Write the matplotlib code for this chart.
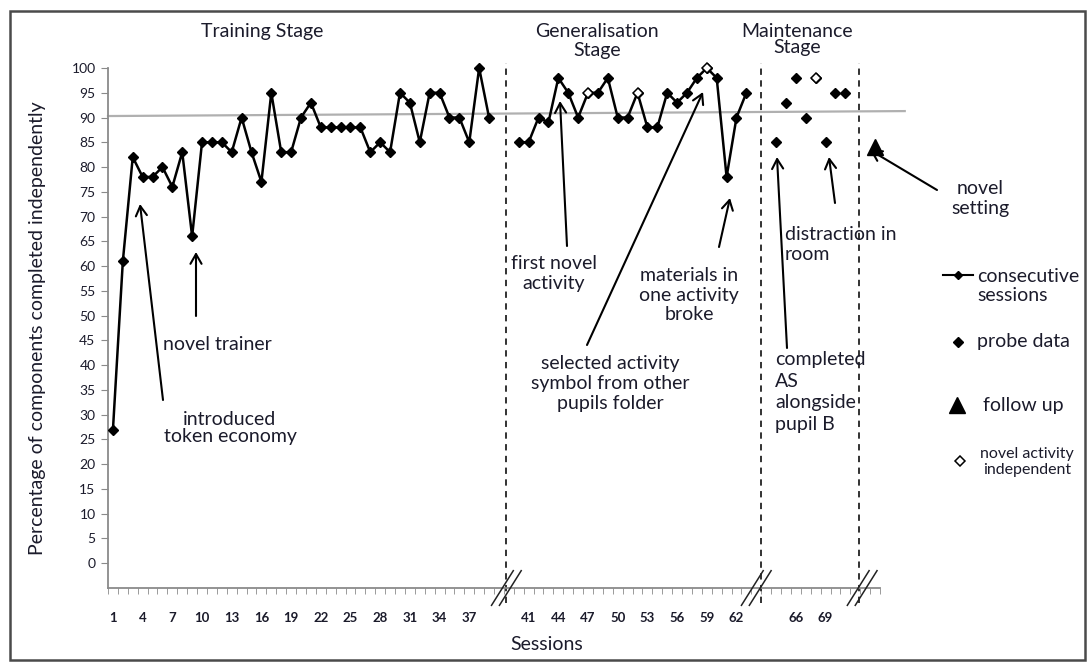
import matplotlib
matplotlib.use('Agg')
import matplotlib.pyplot as plt
from matplotlib.patches import Rectangle

plt.rcParams['font.family'] = ['Lato', 'DejaVu Sans']

# data
training_sessions = list(range(1, 40))
training_values = [27, 61, 82, 78, 78, 80, 76, 83, 66, 85, 85, 85, 83, 90, 83, 77, 95, 83, 83, 90,
                   93, 88, 88, 88, 88, 88, 83, 85, 83, 95, 93, 85, 95, 95, 90, 90, 85, 100, 90]
gen_sessions = list(range(40, 64))
gen_values = [85, 85, 90, 89, 98, 95, 90, 95, 95, 98, 90, 90, 95, 88, 88, 95, 93, 95, 98, 100,
              98, 78, 90, 95]
gen_novel = [47, 52, 59]
maint_sessions = list(range(64, 72))
maint_values = [85, 93, 98, 90, 98, 85, 95, 95]
maint_novel = [68]
follow_session = [74]
follow_value = [84]
criterion = [90.3, 91.3]
tick_sessions = list(range(1, 38, 3)) + list(range(41, 63, 3)) + [66, 69]

W, H = 1092, 667
txt = '#1b1b2b'


def pos(s):
    # gaps in the category axis between stages
    if s <= 39:
        return s
    if s <= 63:
        return s + 2
    return s + 4


fig = plt.figure(figsize=(W / 100, H / 100), dpi=100)
ax = fig.add_axes([108 / W, 1 - 588 / H, (880 - 108) / W, (588 - 68) / H])
ax.set_xlim(0.5, 78.5)
ax.set_ylim(-5, 100)

for s in ['top', 'right']:
    ax.spines[s].set_visible(False)
for s in ['left', 'bottom']:
    ax.spines[s].set_color('#8a8a8a')
    ax.spines[s].set_linewidth(1.3)

ax.set_yticks(range(0, 101, 5))
ax.tick_params(axis='y', length=5, color='#8a8a8a', pad=4, labelsize=10, labelcolor=txt)
ax.set_xticks([pos(s) for s in tick_sessions])
ax.set_xticklabels([str(s) for s in tick_sessions])
ax.set_xticks([p + 0.5 for p in range(0, 79)], minor=True)
ax.tick_params(axis='x', which='major', length=0, pad=17, labelsize=9.5, labelcolor=txt)
ax.tick_params(axis='x', which='minor', length=4, color='#8a8a8a')
for lab in ax.get_xticklabels():
    lab.set_fontweight('bold')

# criterion line
ax.plot([0.5, 81], criterion, color='#b0b0b0', lw=1.6, clip_on=False, zorder=1)

# stage dividers
for p in [40.75, 66.5, 76.4]:
    ax.plot([p, p], [-8, 101], color='#222222', lw=1.3, ls=(0, (3.5, 3)), clip_on=False, zorder=2)

# axis breaks
for p in [40.75, 66.0, 76.7]:
    for off in [-0.4, 0.4]:
        ax.plot([p + off - 1.1, p + off + 1.1], [-5 - 3.5, -5 + 3.5], color='#222222', lw=1.1,
                clip_on=False, zorder=3)

ax.plot([pos(s) for s in training_sessions], training_values, color='black', lw=1.8,
        marker='D', ms=5.5, zorder=4, clip_on=False)
ax.plot([pos(s) for s in gen_sessions], gen_values, color='black', lw=1.8,
        marker='D', ms=5.5, zorder=4, clip_on=False)
nv = [gen_values[gen_sessions.index(s)] for s in gen_novel]
ax.plot([pos(s) for s in gen_novel], nv, ls='none', marker='D', ms=5.5, mfc='white',
        mec='black', mew=1.1, zorder=5, clip_on=False)
ax.plot([pos(s) for s in maint_sessions], maint_values, ls='none', marker='D', ms=5.5,
        color='black', zorder=4)
mv = [maint_values[maint_sessions.index(s)] for s in maint_novel]
ax.plot([pos(s) for s in maint_novel], mv, ls='none', marker='D', ms=5.5, mfc='white',
        mec='black', mew=1.1, zorder=5)
ax.plot([pos(s) for s in follow_session], follow_value, ls='none', marker='^', ms=11,
        color='black', zorder=5, clip_on=False)

# overlay in figure pixels (top-left origin) for labels and arrows
ov = fig.add_axes([0, 0, 1, 1], zorder=10)
ov.set_xlim(0, W)
ov.set_ylim(H, 0)
ov.axis('off')
ov.patch.set_alpha(0)

ov.add_patch(Rectangle((10, 11), 1075, 649, fill=False, ec='#4a4a4a', lw=1.8))

fs = 14


def label(x, y, s, ha='center', ls=1.2, size=fs):
    ov.text(x, y, s, ha=ha, va='center', fontsize=size, color=txt, linespacing=ls)


label(262, 31, 'Training Stage')
label(597, 41, 'Generalisation\nStage', ls=1.1)
label(797, 39.5, 'Maintenance\nStage', ls=0.98)
ov.text(38, 328, 'Percentage of components completed independently', rotation=90,
        ha='center', va='center', fontsize=fs, color=txt)
label(547, 645, 'Sessions')

label(230, 428, 'introduced\ntoken economy', ls=1.05)
label(217, 345, 'novel trainer')
label(554, 273.5, 'first novel\nactivity')
label(610, 383.5, 'selected activity\nsymbol from other\npupils folder')
label(689, 295, 'materials in\none activity\nbroke')
label(785, 244.5, 'distraction in\nroom', ha='left')
label(775, 392, 'completed\nAS\nalongside\npupil B', ha='left', ls=1.33)
label(980, 198.5, 'novel\nsetting')

arrows = [((163, 400), (140, 204)), ((196, 316), (196, 252)), ((567, 246), (560, 101)),
          ((587, 345), (703, 92)), ((719, 247), (730, 198)), ((787, 348), (777, 157)),
          ((835, 203), (829, 157)), ((937, 190), (870, 150))]
for tail, head in arrows:
    ov.annotate('', xy=head, xytext=tail,
                arrowprops=dict(arrowstyle='->, head_length=0.7, head_width=0.4',
                                color='black', lw=1.5, shrinkA=0, shrinkB=0))

# key
ov.plot([943, 973], [275, 275], color='black', lw=1.5)
ov.plot([958], [275], marker='D', ms=4.5, color='black')
label(977, 286, 'consecutive\nsessions', ha='left', ls=1.2)
ov.plot([958], [342], marker='D', ms=5, color='black')
label(977, 342, 'probe data', ha='left')
ov.plot([957], [405], marker='^', ms=12, color='black')
label(983, 405, 'follow up', ha='left')
ov.plot([960], [461], marker='D', ms=5, mfc='white', mec='black', mew=1.1)
label(1027, 462, 'novel activity\nindependent', ls=1.2, size=11.5)

fig.savefig('out.png', dpi=100)
